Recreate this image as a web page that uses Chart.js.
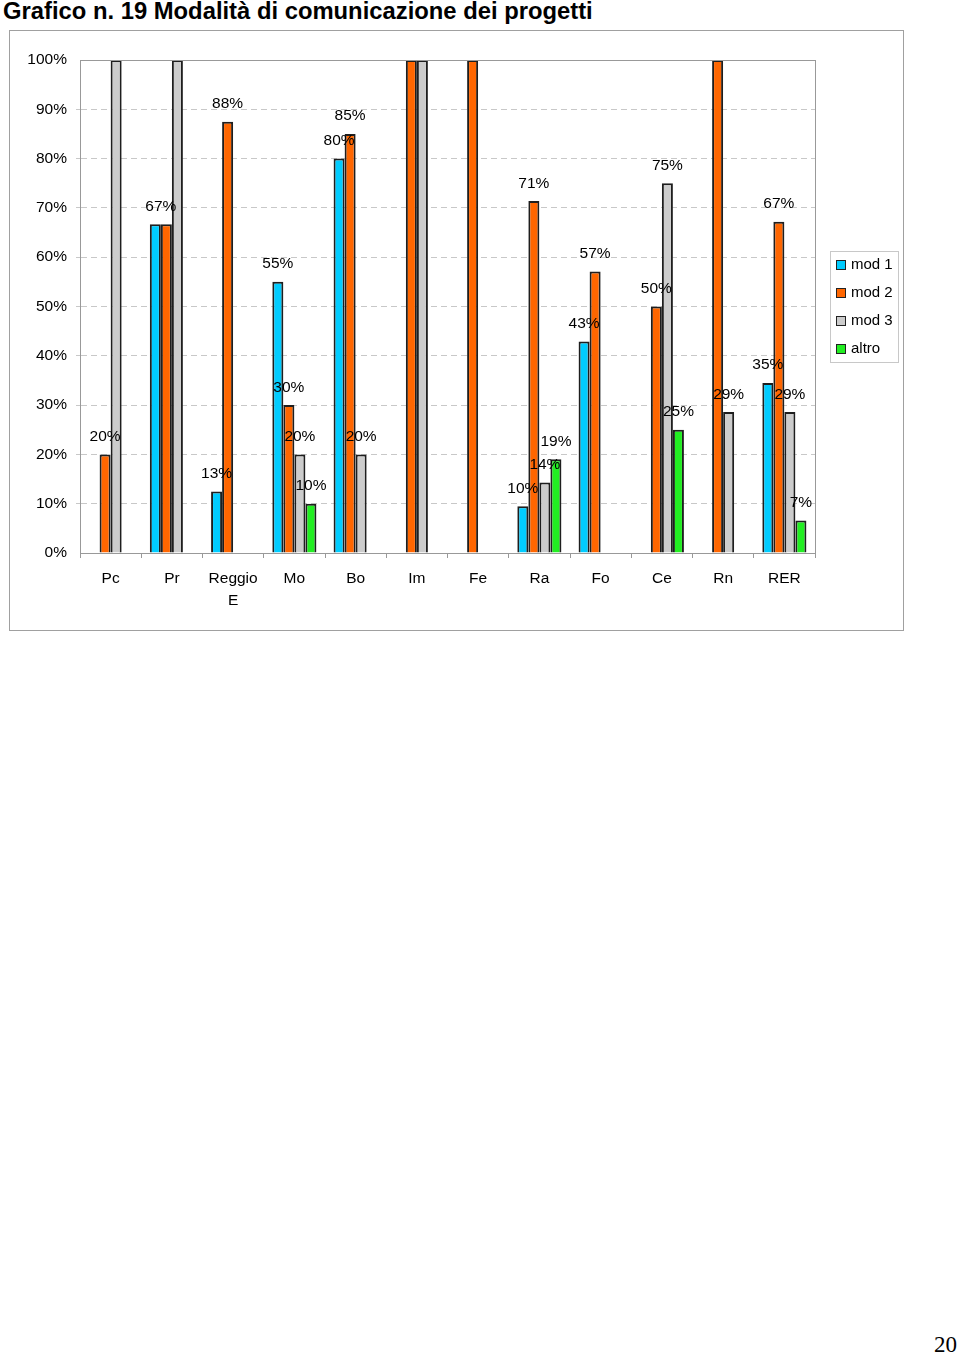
<!DOCTYPE html>
<html lang="it">
<head>
<meta charset="UTF-8">
<title>Grafico n. 19</title>
<script src="https://cdn.jsdelivr.net/npm/chart.js@4.4.0/dist/chart.umd.min.js"></script>
<style>
  body { margin: 0; background: #fff; width: 960px; height: 1356px; position: relative; font-family: "Liberation Sans", Arial, sans-serif; }
  h1 { position: absolute; left: 3px; top: -3px; margin: 0; font-size: 23.8px; font-weight: bold; color: #000; white-space: nowrap; }
  .box { position: absolute; left: 9px; top: 30px; width: 893px; height: 599px; border: 1px solid #a0a0a0; }
  .pagenum { position: absolute; right: 3px; top: 1332px; font-family: "Liberation Serif", "Times New Roman", serif; font-size: 23px; }
</style>
</head>
<body>
<h1>Grafico n. 19 Modalità di comunicazione dei progetti</h1>
<div class="box"><canvas id="myChart" width="893" height="599"></canvas></div>
<div class="pagenum">20</div>
<script>
    var categories = ["Pc", "Pr", ["Reggio", "E"], "Mo", "Bo", "Im", "Fe", "Ra", "Fo", "Ce", "Rn", "RER"];
    var seriesNames = ["mod 1", "mod 2", "mod 3", "altro"];
    var mod1 = [null, 66.7, 12.5, 55, 80, null, null, 9.5, 42.9, null, null, 34.5];
    var mod2 = [20, 66.7, 87.5, 30, 85, 100, 100, 71.4, 57.1, 50, 100, 67.2];
    var mod3 = [100, 100, null, 20, 20, 100, null, 14.3, null, 75, 28.6, 28.6];
    var altro = [null, null, null, 10, null, null, null, 19, null, 25, null, 6.6];
    var colors = ["#00CCFF", "#FF6600", "#CCCCCC", "#22EE22"];

    var FONT = "Liberation Sans";

    // labels over the bars, frame round the plot, legend box on the right
    var extras = {
        id: 'extras',
        afterDatasetsDraw: function(chart) {
            var ctx = chart.ctx;
            ctx.save();
            ctx.font = "15.5px '" + FONT + "'";
            ctx.fillStyle = "#000";
            ctx.textAlign = "center";
            ctx.textBaseline = "bottom";
            var n = chart.data.datasets.length;
            for (var i = 0; i < categories.length; i++) {
                for (var d = 0; d < n; d++) {
                    var v = chart.data.datasets[d].data[i];
                    if (v == null || v >= 100) continue;
                    var bar = chart.getDatasetMeta(d).data[i];
                    var x = bar.x;
                    var nextV = d + 1 < n ? chart.data.datasets[d + 1].data[i] : null;
                    var prevV = d > 0 ? chart.data.datasets[d - 1].data[i] : null;
                    if (prevV != null && Math.round(prevV) === Math.round(v)) continue;
                    if (nextV != null && Math.round(nextV) === Math.round(v)) {
                        x = (x + chart.getDatasetMeta(d + 1).data[i].x) / 2;
                    }
                    ctx.fillText(Math.round(v) + "%", x, bar.y - 10);
                }
            }
            ctx.restore();
        },
        afterDraw: function(chart) {
            var ctx = chart.ctx;
            var a = chart.chartArea;
            ctx.save();
            ctx.strokeStyle = "#999";
            ctx.lineWidth = 1;
            ctx.strokeRect(Math.round(a.left) + 0.5, Math.round(a.top) + 0.5, Math.round(a.right - a.left), Math.round(a.bottom - a.top));
            // legend
            var lx = 820, ly = 220, lw = 68, lh = 111;
            ctx.fillStyle = "#fff";
            ctx.fillRect(lx, ly, lw, lh);
            ctx.strokeStyle = "#c8c8c8";
            ctx.strokeRect(lx + 0.5, ly + 0.5, lw, lh);
            ctx.font = "15px '" + FONT + "'";
            ctx.textBaseline = "middle";
            ctx.textAlign = "left";
            for (var k = 0; k < seriesNames.length; k++) {
                var yy = ly + 14 + k * 28;
                ctx.fillStyle = colors[k];
                ctx.fillRect(lx + 6, yy - 5, 10, 10);
                ctx.strokeStyle = "#222";
                ctx.strokeRect(lx + 6.5, yy - 4.5, 9, 9);
                ctx.fillStyle = "#000";
                ctx.fillText(seriesNames[k], lx + 21, yy);
            }
            ctx.restore();
        }
    };

    var allSeries = [mod1, mod2, mod3, altro];
    var datasets = [];
    for (var s = 0; s < allSeries.length; s++) {
        datasets.push({
            label: seriesNames[s],
            data: allSeries[s],
            backgroundColor: colors[s],
            borderColor: "#1e1e1e",
            borderWidth: 2,
            borderSkipped: 'bottom',
            categoryPercentage: 0.72,
            barPercentage: 1.0
        });
    }

    var chart = new Chart(document.getElementById("myChart"), {
        type: 'bar',
        data: { labels: categories, datasets: datasets },
        plugins: [extras],
        options: {
            responsive: false,
            animation: false,
            events: [],
            layout: { padding: { top: 29, right: 88, left: 0, bottom: 0 } },
            plugins: { legend: { display: false }, tooltip: { enabled: false } },
            scales: {
                x: {
                    grid: { drawOnChartArea: false, offset: true, tickLength: 5, color: "#999" },
                    border: { color: "#999" },
                    ticks: { color: "#000", font: { family: FONT, size: 15.5, lineHeight: 1.4 }, padding: 10, maxRotation: 0, autoSkip: false },
                    afterFit: function(scale) { scale.height = 77; }
                },
                y: {
                    min: 0, max: 100,
                    ticks: { stepSize: 10, color: "#000", font: { family: FONT, size: 15.5 }, padding: 9,
                        callback: function(v) { return v + "%"; } },
                    grid: {
                        tickLength: 4,
                        color: function(c) { return (c.tick.value === 0 || c.tick.value === 100) ? "rgba(0,0,0,0)" : "#c8c8c8"; }
                    },
                    border: { color: "#999", dash: [6, 4] },
                    afterFit: function(scale) { scale.width = 70; }
                }
            }
        }
    });
</script>
</body>
</html>
